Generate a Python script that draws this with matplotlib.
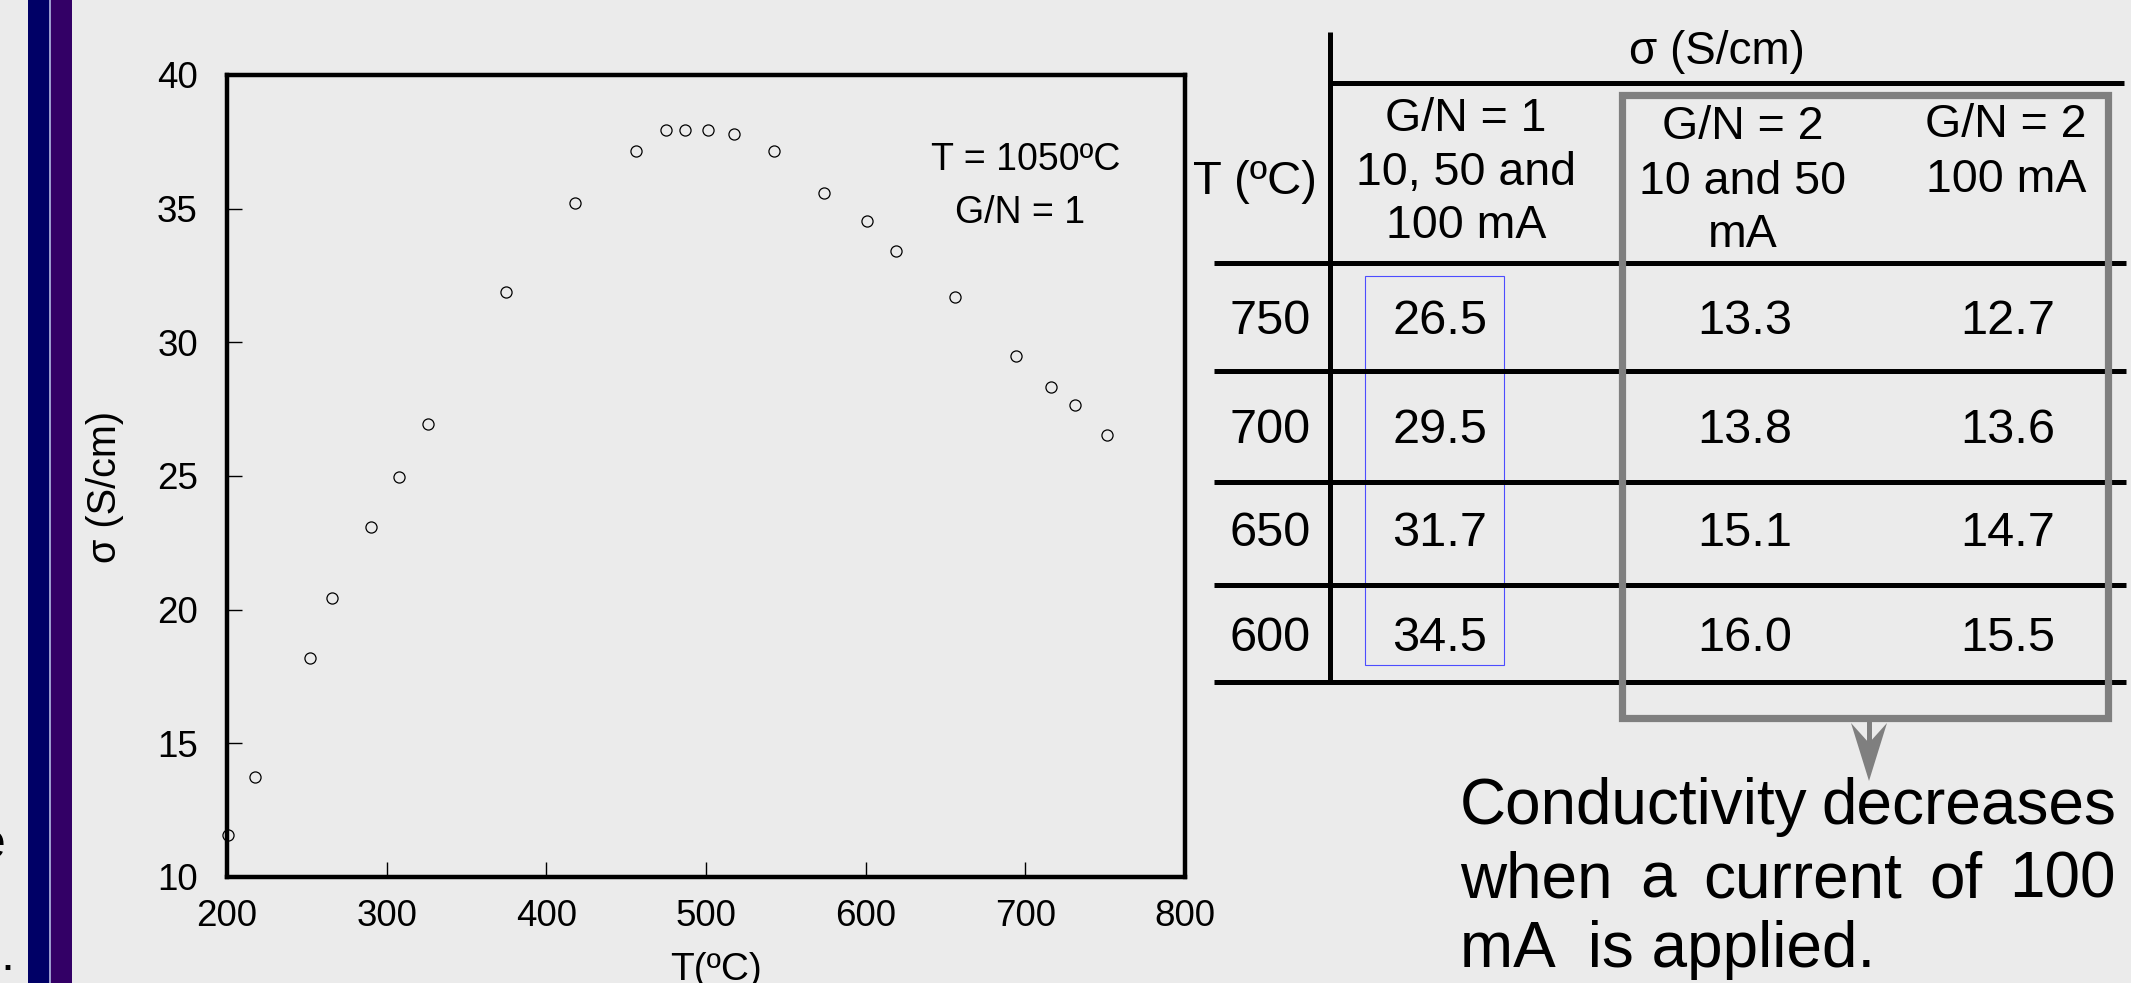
import matplotlib.pyplot as plt
from matplotlib.patches import Rectangle, Polygon

plt.rcParams['font.family'] = ['Liberation Sans', 'DejaVu Sans']

# sigma vs T (G/N = 1, sintered at 1050 C)
T = [200.6, 217.7, 252, 265.8, 290, 307.7, 325.7, 375, 418, 456, 474.8, 487.1,
     501.2, 517.7, 542.9, 573.9, 600.9, 618.9, 656.1, 694.0, 716.0, 731.0, 751]
sigma = [11.58, 13.75, 18.2, 20.42, 23.1, 24.96, 26.93, 31.9, 35.2, 37.17, 37.95, 37.95,
         37.95, 37.79, 37.17, 35.6, 34.52, 33.4, 31.71, 29.5, 28.32, 27.65, 26.54]

# table
temps = ['750', '700', '650', '600']
gn1 = ['26.5', '29.5', '31.7', '34.5']
gn2_low = ['13.3', '13.8', '15.1', '16.0']
gn2_100 = ['12.7', '13.6', '14.7', '15.5']
headers = [['G/N = 1', '10, 50 and', '100 mA'],
           ['G/N = 2', '10 and 50', 'mA'],
           ['G/N = 2', '100 mA']]

bg = '#EBEBEB'
W, H = 2131, 983
fig = plt.figure(figsize=(W / 100, H / 100), dpi=100, facecolor=bg)

ax = fig.add_axes([227 / W, 1 - 877 / H, 958 / W, 802 / H])
ax.set_facecolor('none')
ax.plot(T, sigma, 'o', mfc='none', mec='black', ms=8, mew=0.9, clip_on=False)
ax.set_xlim(200, 800)
ax.set_ylim(10, 40)
ax.set_xticks(range(200, 801, 100))
ax.set_yticks(range(10, 41, 5))
ax.tick_params(direction='in', length=11, width=1, labelsize=26.5)
ax.tick_params(axis='x', pad=16)
ax.tick_params(axis='y', pad=21)
for s in ax.spines.values():
    s.set_linewidth(3.2)
ax.set_xlabel('T(ºC)', fontsize=28)
ax.set_ylabel('σ (S/cm)', fontsize=28.5)
ax.xaxis.set_label_coords(0.51, -0.093)
ax.yaxis.set_label_coords(-0.108, 0.486)
ax.text(700.4, 36.45, 'T = 1050ºC', fontsize=27, ha='center', va='baseline')
ax.text(697, 34.45, 'G/N = 1', fontsize=27, ha='center', va='baseline')

# overlay in pixel coordinates for the slide decorations and table
ov = fig.add_axes([0, 0, 1, 1])
ov.set_xlim(0, W)
ov.set_ylim(H, 0)
ov.axis('off')

ov.add_patch(Rectangle((28, 0), 21, H, color='#000066', lw=0))
ov.add_patch(Rectangle((49, 0), 2, H, color='#9a9acc', lw=0))
ov.add_patch(Rectangle((51, 0), 21, H, color='#330066', lw=0))
ov.text(6, 858, 'e', fontsize=36, ha='right', va='baseline')
ov.text(0, 970, '.', fontsize=36, ha='left', va='baseline')

lw_tab = 3.6
ov.plot([1330, 1330], [32, 684], color='black', lw=lw_tab, solid_capstyle='butt')
ov.plot([1330, 2124], [83, 83], color='black', lw=lw_tab, solid_capstyle='butt')
for y in [263, 371, 482, 584.5, 682]:
    ov.plot([1214, 2126], [y, y], color='black', lw=lw_tab, solid_capstyle='butt')

ov.text(1717, 64, 'σ (S/cm)', fontsize=33, ha='center', va='baseline')
ov.text(1255, 194, 'T (ºC)', fontsize=34, ha='center', va='baseline')

col_x = [1466, 1743, 2006]
head_base = [[131, 185, 238], [139, 194, 247], [137, 192]]
for cx, lines, bases in zip(col_x, headers, head_base):
    for line, b in zip(lines, bases):
        ov.text(cx, b, line, fontsize=33.5, ha='center', va='baseline')

row_base = [334, 443, 546, 651]
for i, b in enumerate(row_base):
    ov.text(1270, b, temps[i], fontsize=35, ha='center', va='baseline')
    ov.text(1440, b, gn1[i], fontsize=35, ha='center', va='baseline')
    ov.text(1745, b, gn2_low[i], fontsize=35, ha='center', va='baseline')
    ov.text(2008, b, gn2_100[i], fontsize=35, ha='center', va='baseline')

ov.add_patch(Rectangle((1365, 276), 139, 389, fill=False, ec='#4d4dff', lw=0.8))
ov.add_patch(Rectangle((1622, 95), 486, 623, fill=False, ec='#7f7f7f', lw=5.2, zorder=3))

# arrow from the gray box
ov.add_patch(Rectangle((1866.5, 721), 5, 24, color='#7f7f7f', lw=0))
ov.add_patch(Polygon([(1851, 723), (1869, 743), (1887, 723), (1869, 781)],
                     closed=True, color='#7f7f7f', lw=0))

# justified note under the table
note = ['Conductivity decreases', 'when a current of 100']
note_base = [824, 897]
x0, x1 = 1460, 2116
fig.canvas.draw()
r = fig.canvas.get_renderer()
for line, b in zip(note, note_base):
    words = line.split()
    texts = [ov.text(x0, b, w, fontsize=46, va='baseline') for w in words]
    widths = [t.get_window_extent(r).width for t in texts]
    gap = (x1 - x0 - sum(widths)) / (len(words) - 1)
    x = x0
    for t, w in zip(texts, widths):
        t.set_x(x)
        x += w + gap
ov.text(x0, 967, 'mA  is applied.', fontsize=46, va='baseline')

fig.savefig('out.png', dpi=100, facecolor=bg)
